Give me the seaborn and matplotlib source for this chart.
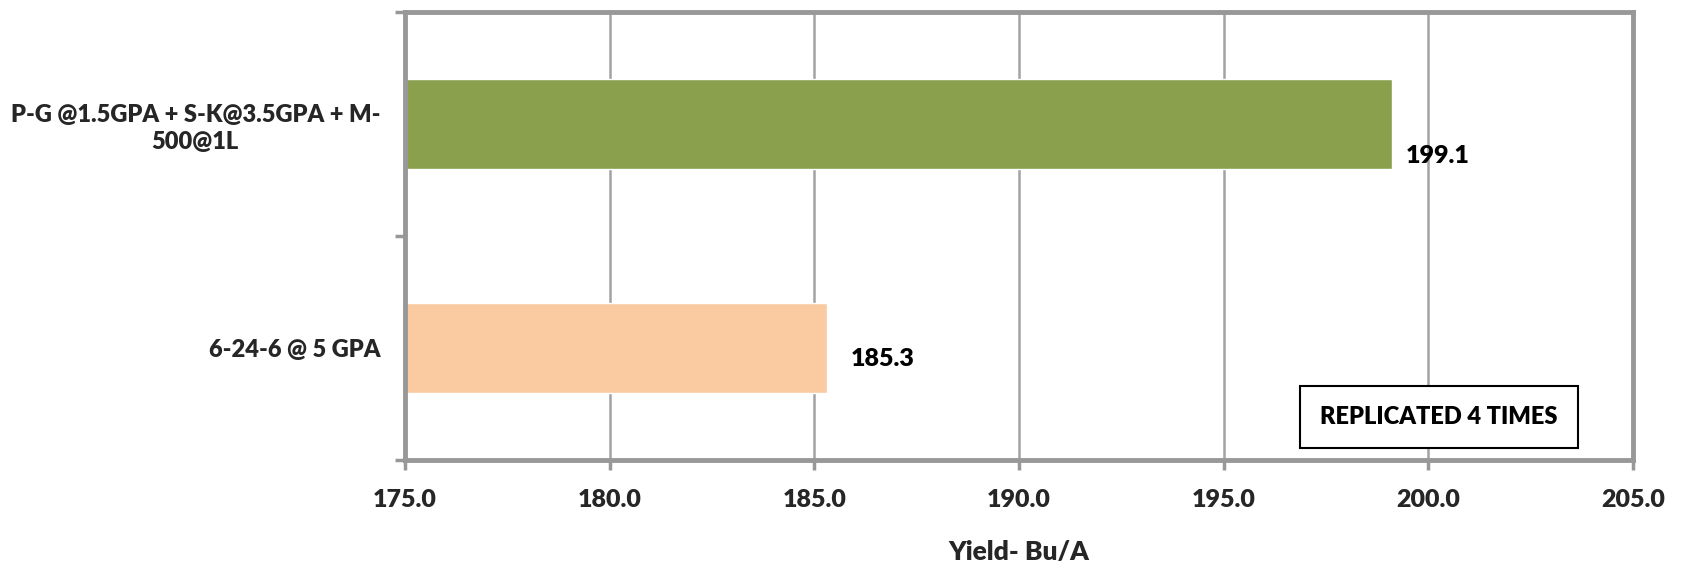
import numpy as np
import matplotlib
matplotlib.use("Agg")
import matplotlib.pyplot as plt
import pandas as pd
import seaborn as sns

sns.set_theme(style="white")
plt.rcParams['font.family'] = ['Lato', 'DejaVu Sans']

# data
treatments = ["P-G @1.5GPA + S-K@3.5GPA + M-\n500@1L", "6-24-6 @ 5 GPA"]
yields = [199.1, 185.3]
bar_colors = ["#8aa04c", "#facba1"]
x_ticks = [175.0, 180.0, 185.0, 190.0, 195.0, 200.0, 205.0]
note = "REPLICATED 4 TIMES"

df = pd.DataFrame({"treatment": treatments, "yield": yields})

gray = "#989898"
wt = 'heavy'

fig = plt.figure(figsize=(16.82, 5.68), dpi=100)
ax = fig.add_axes([0.2408, 0.190, 0.7301, 0.7887])

sns.barplot(data=df, x="yield", y="treatment", hue="treatment", palette=bar_colors,
            width=0.4, legend=False, ax=ax, saturation=1)

ax.set_xlim(175, 205)
ax.set_xticks(x_ticks)
ax.set_xticklabels([f"{v:.1f}" for v in x_ticks], fontsize=18, fontweight=wt)
ax.set_ylim(1.5, -0.5)
ax.set_yticks([0, 1])
ax.set_yticklabels(treatments, fontsize=17, fontweight=wt, linespacing=1.3)
for lab in ax.get_yticklabels():
    lab.set_multialignment('center')
ax.set_yticks([-0.5, 0.5, 1.5], minor=True)
ax.tick_params(axis='y', which='major', length=0, pad=18)
ax.tick_params(axis='y', which='minor', length=7, width=2.5, color=gray, direction='out', left=True)
ax.tick_params(axis='x', which='major', length=7, width=2.5, color=gray, direction='out', bottom=True, pad=14)

ax.set_xlabel("Yield- Bu/A", fontsize=19, fontweight=wt, labelpad=21)
ax.set_ylabel("")

ax.grid(axis='x', color="#a3a3a3", linewidth=1.8)
ax.set_axisbelow(True)
for s in ax.spines.values():
    s.set_color(gray)
    s.set_linewidth(3.5)
    s.set_visible(True)

# value labels
label_dx = [10, 17]
label_dy = [-23, -8]
for i, v in enumerate(yields):
    ax.annotate(f"{v:.1f}", xy=(v, i), xytext=(label_dx[i], label_dy[i]),
                textcoords="offset points", ha='left', va='center',
                fontsize=18, fontweight=wt, color='black')

ax.text(0.842, 0.096, note, transform=ax.transAxes, ha='center', va='center',
        fontsize=17, fontweight=wt, color='black',
        bbox=dict(boxstyle='square,pad=0.85', facecolor='white', edgecolor='black', linewidth=1.5))

fig.savefig("out.png", dpi=100)
